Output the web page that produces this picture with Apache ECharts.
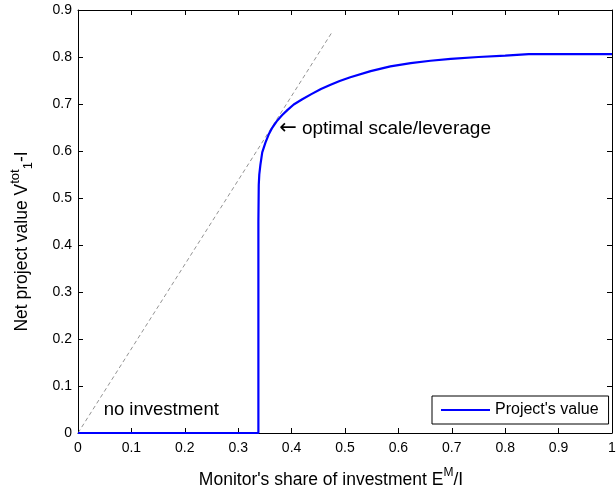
<!DOCTYPE html>
<html>
<head>
<meta charset="utf-8">
<script src="https://cdn.jsdelivr.net/npm/echarts@6/dist/echarts.min.js"></script>
<style>
html,body{margin:0;padding:0;background:#fff;}
#chart{width:616px;height:489px;}
</style>
</head>
<body>
<div id="chart"></div>
<script>
// Project's value curve (x = monitor's share E^M/I, y = net project value)
const valueX = [0, 0.3378, 0.3378, 0.3385, 0.3395, 0.3415, 0.345, 0.351, 0.357, 0.363, 0.372, 0.382, 0.392, 0.404, 0.42, 0.437, 0.455, 0.473, 0.49, 0.51, 0.548, 0.585, 0.623, 0.66, 0.698, 0.75, 0.8, 0.844, 1.0];
const valueY = [0, 0, 0.45, 0.528, 0.55, 0.57, 0.597, 0.618, 0.635, 0.648, 0.663, 0.676, 0.687, 0.699, 0.71, 0.721, 0.732, 0.741, 0.749, 0.757, 0.77, 0.78, 0.787, 0.792, 0.796, 0.8, 0.803, 0.806, 0.806];
// Dashed tangent line through origin
const tangentX = [0, 0.4747];
const tangentY = [0, 0.851];
// Annotations
const annotX = [0.377, 0.048];
const annotY = [0.647, 0.049];
const annotText = ['{arr|\u2190}{t|optimal scale/leverage}', '{n|no investment}'];
// Ticks
const xTicks = [0, 0.1, 0.2, 0.3, 0.4, 0.5, 0.6, 0.7, 0.8, 0.9, 1];
const yTicks = [0, 0.1, 0.2, 0.3, 0.4, 0.5, 0.6, 0.7, 0.8, 0.9];

const FONT = 'Liberation Sans, Arial, sans-serif';
const fmt = v => String(+v.toFixed(1));

const chart = echarts.init(document.getElementById('chart'), null, {renderer: 'canvas'});

const axisCommon = {
  type: 'value',
  splitLine: {show: false},
  axisLine: {show: true, onZero: false, lineStyle: {color: '#000', width: 1}},
  axisTick: {show: true, inside: true, length: 5, lineStyle: {color: '#000', width: 1}},
};

chart.setOption({
  animation: false,
  backgroundColor: '#fff',
  textStyle: {fontFamily: FONT},
  grid: {left: 78, right: 4, top: 10, bottom: 56, containLabel: false, outerBoundsMode: 'none'},
  xAxis: [
    Object.assign({}, axisCommon, {
      min: xTicks[0], max: xTicks[xTicks.length - 1], interval: 0.1,
      position: 'bottom',
      axisLabel: {color: '#000', fontSize: 14, fontFamily: FONT, margin: 8, formatter: fmt},
      name: '{t|Monitor\'s share of investment E}{sup|M}{e|/I}',
      nameLocation: 'middle', nameGap: 34,
      nameTextStyle: {
        color: '#000', fontFamily: FONT,
        rich: {
          t: {fontSize: 17.5, fontFamily: FONT, color: '#000', lineHeight: 22, verticalAlign: 'bottom'},
          sup: {fontSize: 12, fontFamily: FONT, color: '#000', lineHeight: 22, verticalAlign: 'top'},
          e: {fontSize: 17.5, fontFamily: FONT, color: '#000', lineHeight: 22, verticalAlign: 'bottom', padding: [0, 28, 0, 0]}
        }
      }
    }),
    Object.assign({}, axisCommon, {
      min: xTicks[0], max: xTicks[xTicks.length - 1], interval: 0.1,
      position: 'top', axisLabel: {show: false}
    })
  ],
  yAxis: [
    Object.assign({}, axisCommon, {
      min: yTicks[0], max: yTicks[yTicks.length - 1], interval: 0.1,
      position: 'left',
      axisLabel: {color: '#000', fontSize: 14, fontFamily: FONT, margin: 6, formatter: fmt},
      name: '{t|Net project value V}{sup|tot}{sub|1}{e|-I}',
      nameLocation: 'middle', nameGap: 43,
      nameTextStyle: {
        color: '#000', fontFamily: FONT,
        rich: {
          t: {fontSize: 17.5, fontFamily: FONT, color: '#000', lineHeight: 26, verticalAlign: 'middle'},
          sup: {fontSize: 13, fontFamily: FONT, color: '#000', lineHeight: 26, verticalAlign: 'top'},
          sub: {fontSize: 13, fontFamily: FONT, color: '#000', lineHeight: 26, verticalAlign: 'bottom'},
          e: {fontSize: 17.5, fontFamily: FONT, color: '#000', lineHeight: 26, verticalAlign: 'middle', padding: [0, 40, 0, 0]}
        }
      }
    }),
    Object.assign({}, axisCommon, {
      min: yTicks[0], max: yTicks[yTicks.length - 1], interval: 0.1,
      position: 'right', axisLabel: {show: false}
    })
  ],
  legend: {
    data: [{name: "Project's value", icon: 'rect'}],
    left: 432, top: 396,
    orient: 'vertical',
    backgroundColor: '#fff',
    borderColor: '#000', borderWidth: 1, borderRadius: 0,
    padding: [6, 10, 6, 9],
    itemWidth: 49, itemHeight: 2, itemGap: 0,
    textStyle: {color: '#000', fontSize: 16, fontFamily: FONT, lineHeight: 16}
  },
  series: [
    {
      name: 'tangent', type: 'line',
      data: tangentX.map((x, i) => [x, tangentY[i]]),
      symbol: 'none', silent: true,
      lineStyle: {color: '#777', width: 0.8, type: [4, 3]},
      z: 2
    },
    {
      name: "Project's value", type: 'line',
      data: valueX.map((x, i) => [x, valueY[i]]),
      symbol: 'none', smooth: false,
      lineStyle: {color: '#0000ff', width: 2.2},
      itemStyle: {color: '#0000ff'},
      z: 3
    },
    {
      name: 'annotations', type: 'scatter',
      data: annotX.map((x, i) => ({value: [x, annotY[i]], label: {formatter: annotText[i]}})),
      symbolSize: 0, silent: true,
      itemStyle: {opacity: 1},
      label: {
        show: true, position: 'right', distance: 0, color: '#000', fontFamily: FONT,
        rich: {
          arr: {fontSize: 21, fontFamily: 'DejaVu Sans', color: '#000', lineHeight: 22},
          t: {fontSize: 19, fontFamily: FONT, color: '#000', lineHeight: 22, padding: [0, 0, 0, 5]},
          n: {fontSize: 18.5, fontFamily: FONT, color: '#000', lineHeight: 22}
        }
      },
      z: 4
    }
  ]
});
</script>
</body>
</html>
